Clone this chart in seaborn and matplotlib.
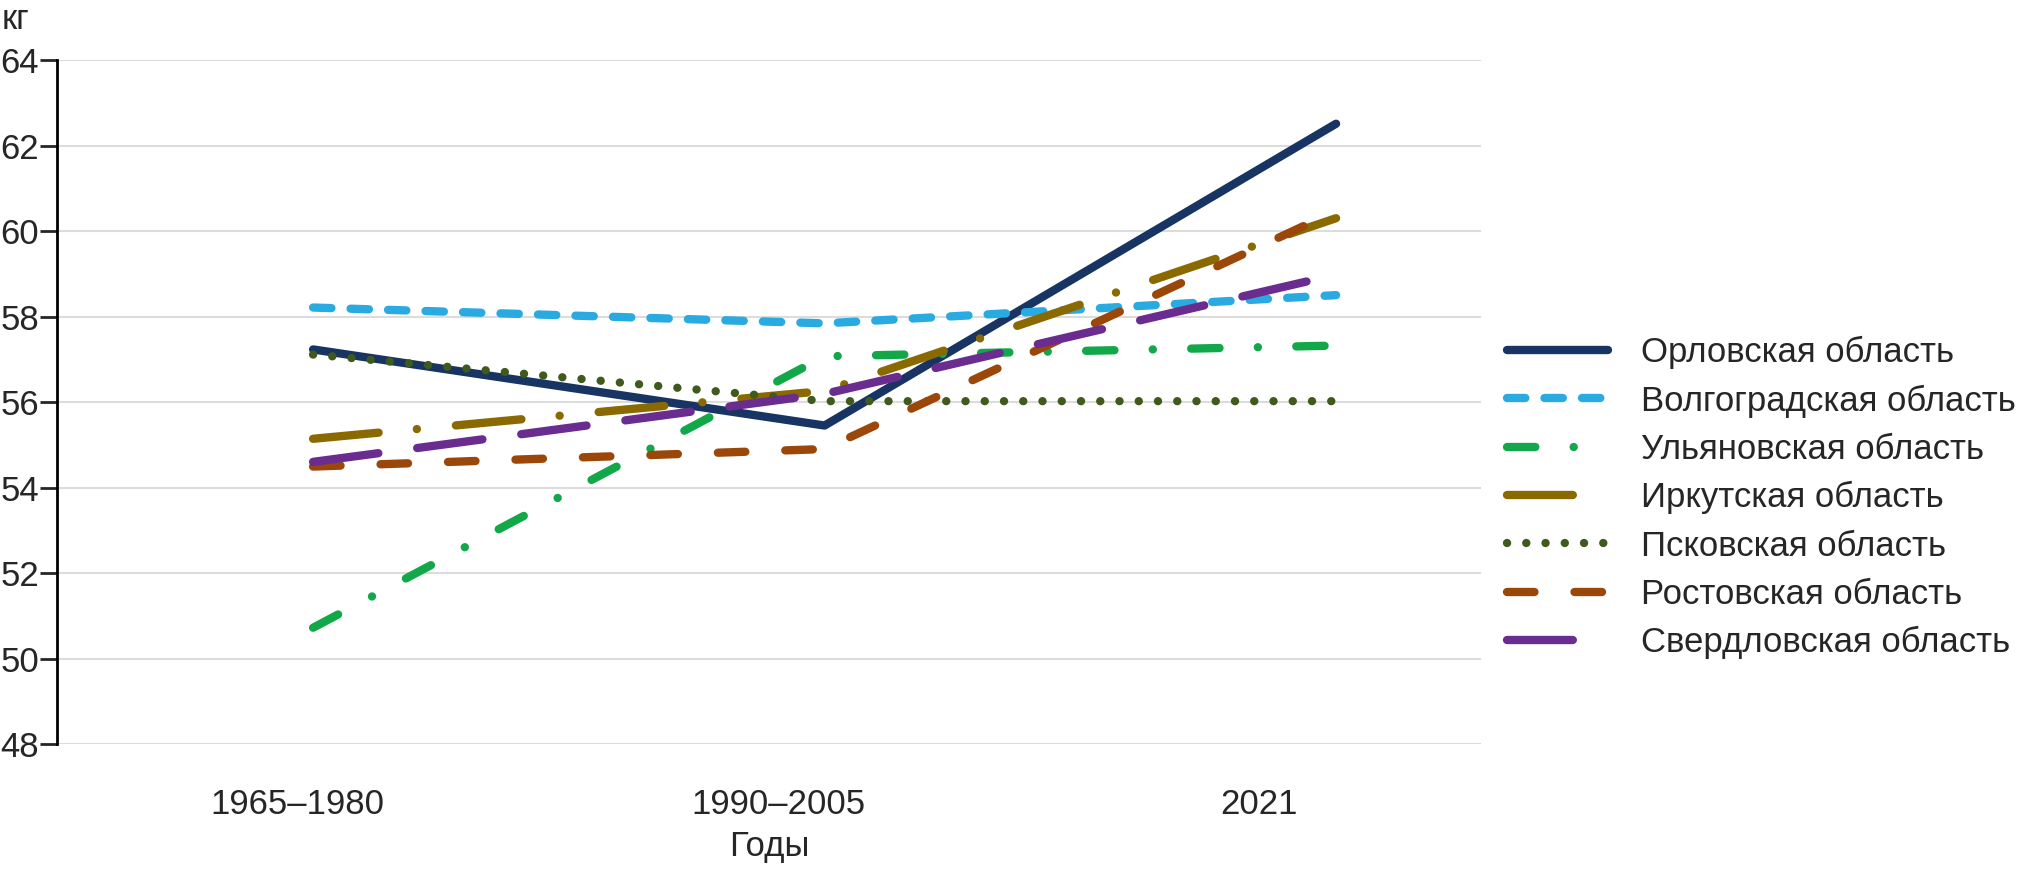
import numpy as np
import pandas as pd
import seaborn as sns
import matplotlib.pyplot as plt

# --- data ---
periods = ["1965–1980", "1990–2005", "2021"]
regions = [
    "Орловская область",
    "Волгоградская область",
    "Ульяновская область",
    "Иркутская область",
    "Псковская область",
    "Ростовская область",
    "Свердловская область",
]
orel = [57.23, 55.45, 62.51]
volgograd = [58.21, 57.84, 58.50]
ulyanovsk = [50.72, 57.07, 57.32]
irkutsk = [55.14, 56.26, 60.30]
pskov = [57.11, 56.02, 56.02]
rostov = [54.49, 54.90, 60.47]
sverdlovsk = [54.60, 56.19, 58.98]

series = [orel, volgograd, ulyanovsk, irkutsk, pskov, rostov, sverdlovsk]
colors = ["#173463", "#29abe2", "#12a84a", "#8a6a00", "#3f5a1c", "#9a4709", "#6a2c8f"]
dash_styles = [
    "",                          # solid
    (2.2, 2.3),                  # short dash
    (3.4, 4.6, 0.01, 4.6),       # dash-dot
    (7.9, 4.6, 0.01, 4.7),       # long dash-dot
    (0.01, 2.3),                 # dotted
    (3.3, 4.8),                  # dash
    (7.9, 4.7),                  # long dash
]

rows = []
for name, vals in zip(regions, series):
    for i, v in enumerate(vals):
        rows.append({"period": i, "value": v, "region": name})
df = pd.DataFrame(rows)

sns.set_style("white")
plt.rcParams["font.family"] = ["Liberation Sans", "DejaVu Sans"]
FS = 25
LW = 6

fig = plt.figure(figsize=(20.17, 8.75), dpi=100)
ax = fig.add_axes([0.0283, 0.1497, 0.706, 0.7817])

sns.lineplot(
    data=df, x="period", y="value", hue="region", style="region",
    hue_order=regions, style_order=regions,
    palette=dict(zip(regions, colors)),
    dashes=dict(zip(regions, dash_styles)),
    linewidth=LW, ax=ax, legend=True,
    solid_capstyle="round", dash_capstyle="round",
)

ax.set_xlim(-0.5005, 2.2835)
ax.set_ylim(48, 64)
ax.set_yticks(np.arange(48, 65, 2))
ax.set_xticks([-0.03, 0.91, 1.85], periods)
ax.tick_params(axis="x", length=0, pad=32, labelsize=FS)
ax.tick_params(axis="y", length=12, width=2, pad=1, labelsize=FS, left=True)
ax.yaxis.grid(True, color="#dcdcdc", linewidth=1.5)
ax.xaxis.grid(False)
for side in ["top", "right", "bottom"]:
    ax.spines[side].set_visible(False)
ax.spines["left"].set_color("black")
ax.spines["left"].set_linewidth(2)
ax.set_xlabel("Годы", fontsize=FS, labelpad=6)
ax.set_ylabel("")
fig.text(0.001, 0.997, "кг", fontsize=FS, ha="left", va="top")

handles, labels = ax.get_legend_handles_labels()
leg = ax.legend(
    handles, labels, loc="upper left", bbox_to_anchor=(0.7385, 0.636),
    bbox_transform=fig.transFigure, frameon=False, fontsize=FS,
    handlelength=2.9, handletextpad=0.95, labelspacing=0.44, borderpad=0,
)
for line, c, d in zip(leg.get_lines(), colors, dash_styles):
    line.set_linewidth(LW)
    line.set_color(c)
    line.set_solid_capstyle("round")
    line.set_dash_capstyle("round")
    if d != "":
        line.set_dashes(d)

fig.savefig("out.png", dpi=100)
plt.close(fig)
